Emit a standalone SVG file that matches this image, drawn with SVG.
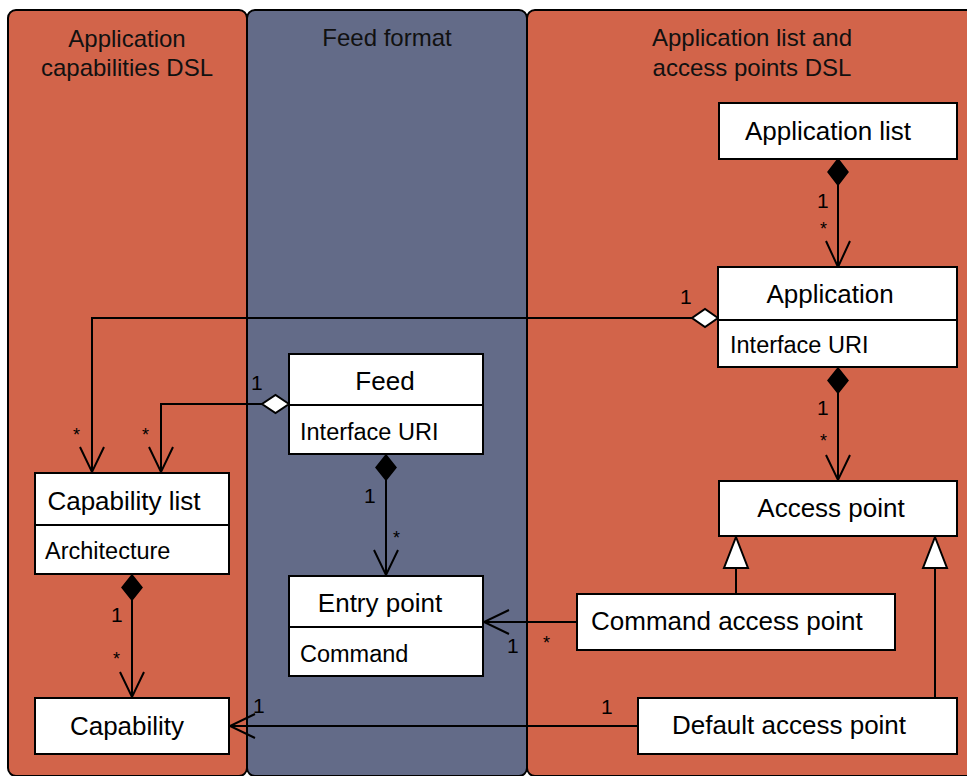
<svg xmlns="http://www.w3.org/2000/svg" width="967" height="776" viewBox="0 0 967 776">
  <defs>
    <style>
      .lane-o { fill: #D2644A; stroke: #000; stroke-width: 2; }
      .lane-b { fill: #636B88; stroke: #000; stroke-width: 2; }
      .box { fill: #fff; stroke: #000; stroke-width: 2; }
      .sep { stroke: #000; stroke-width: 2; }
      .edge { fill: none; stroke: #000; stroke-width: 2; }
      .title { font-family: "Liberation Sans", Arial, sans-serif; font-size: 24px; fill: #111; text-anchor: middle; }
      .name { font-family: "Liberation Sans", Arial, sans-serif; font-size: 26px; fill: #000; text-anchor: middle; }
      .attr { font-family: "Liberation Sans", Arial, sans-serif; font-size: 23.5px; fill: #000; }
      .mult { font-family: "Liberation Sans", Arial, sans-serif; font-size: 21px; fill: #000; }
      .star { font-family: "Liberation Sans", Arial, sans-serif; font-size: 18px; fill: #000; }
      .solid { fill: #000; stroke: #000; stroke-width: 1.5; }
      .hollow { fill: #fff; stroke: #000; stroke-width: 2; }
    </style>
  </defs>

  <!-- swimlanes -->
  <g id="lanes">
    <rect class="lane-o" x="8" y="10" width="239" height="766" rx="8"/>
    <rect class="lane-b" x="247" y="10" width="280" height="766" rx="8"/>
    <rect class="lane-o" x="527" y="10" width="452" height="766" rx="8"/>
    <text class="title" x="127" y="47">Application</text>
    <text class="title" x="127" y="76">capabilities DSL</text>
    <text class="title" x="387" y="46">Feed format</text>
    <text class="title" x="752" y="46">Application list and</text>
    <text class="title" x="752" y="76">access points DSL</text>
  </g>

  <!-- connectors -->
  <g id="connectors">
    <!-- Application list -> Application (composition) -->
    <line class="edge" x1="838" y1="185" x2="838" y2="267"/>
    <polyline class="edge" points="826,241 838,267 850,241"/>
    <polygon class="solid" points="838,159 848,172 838,185 828,172"/>
    <text class="mult" x="817" y="208">1</text>
    <text class="star" x="820" y="235">*</text>

    <!-- Application -> Capability list (aggregation) -->
    <polyline class="edge" points="692,318 92,318 92,472"/>
    <polyline class="edge" points="80,447 92,472 104,447"/>
    <polygon class="hollow" points="718,318 705,309 692,318 705,327"/>
    <text class="mult" x="680" y="304">1</text>
    <text class="star" x="73" y="441">*</text>

    <!-- Feed -> Capability list (aggregation) -->
    <polyline class="edge" points="262,404 161,404 161,472"/>
    <polyline class="edge" points="149,447 161,472 173,447"/>
    <polygon class="hollow" points="289,404 275.5,395 262,404 275.5,413"/>
    <text class="mult" x="251" y="390">1</text>
    <text class="star" x="142" y="441">*</text>

    <!-- Feed -> Entry point (composition) -->
    <line class="edge" x1="386" y1="480" x2="386" y2="575"/>
    <polyline class="edge" points="374,550 386,575 398,550"/>
    <polygon class="solid" points="386,455 396,467.5 386,480 376,467.5"/>
    <text class="mult" x="364" y="503">1</text>
    <text class="star" x="393" y="544">*</text>

    <!-- Application -> Access point (composition) -->
    <line class="edge" x1="838" y1="393" x2="838" y2="480"/>
    <polyline class="edge" points="826,455 838,480 850,455"/>
    <polygon class="solid" points="838,368 848,380.5 838,393 828,380.5"/>
    <text class="mult" x="817" y="415">1</text>
    <text class="star" x="820" y="447">*</text>

    <!-- Command access point -> Entry point -->
    <line class="edge" x1="577" y1="622" x2="484" y2="622"/>
    <polyline class="edge" points="509,610 484,622 509,634"/>
    <text class="mult" x="507" y="653">1</text>
    <text class="star" x="543" y="649">*</text>

    <!-- Capability list -> Capability (composition) -->
    <line class="edge" x1="132" y1="600" x2="132" y2="697"/>
    <polyline class="edge" points="120,672 132,697 144,672"/>
    <polygon class="solid" points="132,575 142,587.5 132,600 122,587.5"/>
    <text class="mult" x="111" y="622">1</text>
    <text class="star" x="113" y="665">*</text>

    <!-- Default access point -> Capability -->
    <line class="edge" x1="638" y1="726" x2="230" y2="726"/>
    <polyline class="edge" points="255,714 230,726 255,738"/>
    <text class="mult" x="253" y="713">1</text>
    <text class="mult" x="601" y="714">1</text>

    <!-- generalizations to Access point -->
    <line class="edge" x1="736" y1="568" x2="736" y2="594"/>
    <polygon class="hollow" points="736,537 748,568 724,568"/>
    <line class="edge" x1="935" y1="568" x2="935" y2="698"/>
    <polygon class="hollow" points="935,537 947,568 923,568"/>
  </g>

  <!-- classes -->
  <g id="application-list">
    <rect class="box" x="719" y="103" width="238" height="56"/>
    <text class="name" x="828" y="140">Application list</text>
  </g>

  <g id="application">
    <rect class="box" x="718" y="267" width="239" height="100"/>
    <line class="sep" x1="718" y1="320" x2="957" y2="320"/>
    <text class="name" x="830" y="303">Application</text>
    <text class="attr" x="730" y="353">Interface URI</text>
  </g>

  <g id="access-point">
    <rect class="box" x="719" y="481" width="238" height="55"/>
    <text class="name" x="831" y="517">Access point</text>
  </g>

  <g id="command-access-point">
    <rect class="box" x="577" y="594" width="318" height="56"/>
    <text class="name" x="591" y="630" style="text-anchor:start">Command access point</text>
  </g>

  <g id="default-access-point">
    <rect class="box" x="638" y="698" width="319" height="56"/>
    <text class="name" x="789" y="734">Default access point</text>
  </g>

  <g id="feed">
    <rect class="box" x="289" y="354" width="194" height="100"/>
    <line class="sep" x1="289" y1="405" x2="483" y2="405"/>
    <text class="name" x="385" y="390">Feed</text>
    <text class="attr" x="300" y="440">Interface URI</text>
  </g>

  <g id="entry-point">
    <rect class="box" x="289" y="576" width="194" height="100"/>
    <line class="sep" x1="289" y1="627" x2="483" y2="627"/>
    <text class="name" x="380" y="612">Entry point</text>
    <text class="attr" x="300" y="662">Command</text>
  </g>

  <g id="capability-list">
    <rect class="box" x="35" y="473" width="194" height="101"/>
    <line class="sep" x1="35" y1="525" x2="229" y2="525"/>
    <text class="name" x="124" y="510">Capability list</text>
    <text class="attr" x="45" y="559">Architecture</text>
  </g>

  <g id="capability">
    <rect class="box" x="35" y="698" width="194" height="56"/>
    <text class="name" x="127" y="735">Capability</text>
  </g>
</svg>
